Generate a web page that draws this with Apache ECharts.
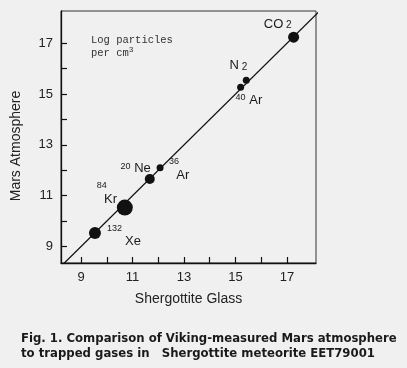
<!DOCTYPE html>
<html><head><meta charset="utf-8">
<script src="https://cdn.jsdelivr.net/npm/echarts@6/dist/echarts.min.js"></script>
<style>html,body{margin:0;padding:0;background:#f0f0f0;}#c{width:407px;height:368px;}</style>
</head><body><div id="c"></div>
<script>
// Data (log particles per cm^3)
const gases = ['CO2', 'N2', '40Ar', '36Ar', '20Ne', '84Kr', '132Xe'];
const shergottiteGlass = [17.26, 15.42, 15.20, 12.07, 11.67, 10.70, 9.54];
const marsAtmosphere  = [17.24, 15.54, 15.27, 12.10, 11.66, 10.53, 9.53];
const xTickValues = [9, 10, 11, 12, 13, 14, 15, 16, 17];
const xTickLabels = [9, 11, 13, 15, 17];
const yTickValues = [9, 10, 11, 12, 13, 14, 15, 16, 17];
const yTickLabels = [9, 11, 13, 15, 17];
const unityLine = [8, 18.5];

// Styles
const markerSizes = [11, 7, 7, 7, 10, 16, 12];
const labelStyles = {
  'CO2':   {formatter: '{m|CO}{s| 2}', align: 'right', offset: [-2, -13]},
  'N2':    {formatter: '{m|N}{s| 2}', align: 'right', offset: [1, -15]},
  '40Ar':  {formatter: '{u|40}{m| Ar}', align: 'left', offset: [-5, 13]},
  '36Ar':  {formatter: '{u|36}\n{m|  Ar}', align: 'left', offset: [9, 3]},
  '20Ne':  {formatter: '{u|20}{m| Ne}', align: 'right', offset: [1, -10]},
  '84Kr':  {formatter: '{u|84}\n{m|  Kr}', align: 'left', offset: [-28, -13]},
  '132Xe': {formatter: '{u|132}\n{m|     Xe}', align: 'left', offset: [12, 4]}
};
const rich = {
  m: {fontFamily: 'Liberation Sans', fontSize: 13, color: '#1a1a1a', lineHeight: 13},
  s: {fontFamily: 'Liberation Sans', fontSize: 10, color: '#1a1a1a', lineHeight: 13, verticalAlign: 'bottom', padding: [7, 0, 0, 0]},
  u: {fontFamily: 'Liberation Sans', fontSize: 9, color: '#1a1a1a', lineHeight: 9, padding: [0, 0, 5, 0]}
};

const chart = echarts.init(document.getElementById('c'));
const pts = gases.map((g, i) => ({
  name: g,
  value: [shergottiteGlass[i], marsAtmosphere[i]],
  symbolSize: markerSizes[i],
  label: Object.assign({show: true, position: 'inside', verticalAlign: 'middle', rich: rich}, labelStyles[g])
}));

const axisCommon = {
  axisLine: {show: true, onZero: false, lineStyle: {color: '#111', width: 1.3}},
  axisTick: {show: true, inside: true, length: 6, lineStyle: {color: '#111', width: 1.2}},
  splitLine: {show: false},
  axisLabel: {fontFamily: 'Liberation Sans', fontSize: 13, color: '#222', margin: 8},
  nameTextStyle: {fontFamily: 'Liberation Sans', fontSize: 14, color: '#222'}
};

chart.setOption({
  backgroundColor: '#f0f0f0',
  animation: false,
  title: {
    text: 'Log particles\nper cm{sup|3}',
    left: 91, top: 34, padding: 0,
    textStyle: {fontFamily: 'Liberation Mono', fontSize: 10.5, fontWeight: 'normal', color: '#333', lineHeight: 13,
      rich: {sup: {fontFamily: 'Liberation Mono', fontSize: 8, color: '#333', padding: [0, 0, 8, 0]}}}
  },
  grid: {left: 61, right: 91, top: 11, bottom: 105, show: true, borderColor: '#333', borderWidth: 1, backgroundColor: 'transparent'},
  xAxis: Object.assign({}, axisCommon, {
    type: 'value', min: 8.22, max: 18.13,
    name: 'Shergottite Glass', nameLocation: 'middle', nameGap: 29,
    axisTick: Object.assign({}, axisCommon.axisTick, {customValues: xTickValues}),
    axisLabel: Object.assign({}, axisCommon.axisLabel, {customValues: xTickLabels})
  }),
  yAxis: Object.assign({}, axisCommon, {
    type: 'value', min: 8.35, max: 18.27,
    name: 'Mars Atmosphere', nameLocation: 'middle', nameGap: 38,
    nameTextStyle: Object.assign({}, axisCommon.nameTextStyle, {padding: [0, 18, 0, 0]}),
    axisTick: Object.assign({}, axisCommon.axisTick, {customValues: yTickValues}),
    axisLabel: Object.assign({}, axisCommon.axisLabel, {customValues: yTickLabels})
  }),
  graphic: [{
    type: 'text', left: 21, top: 332,
    style: {text: 'Fig. 1. Comparison of Viking-measured Mars atmosphere\nto trapped gases in   Shergottite meteorite EET79001',
      font: 'bold 11.7px "DejaVu Sans"', fill: '#1a1a1a', lineHeight: 14.5}
  }],
  series: [
    {type: 'line', data: unityLine.map(v => [v, v]), symbol: 'none', clip: true,
     lineStyle: {color: '#111', width: 1.3}, silent: true, z: 1},
    {type: 'scatter', data: pts, itemStyle: {color: '#111', opacity: 1}, z: 3}
  ]
});
</script></body></html>
